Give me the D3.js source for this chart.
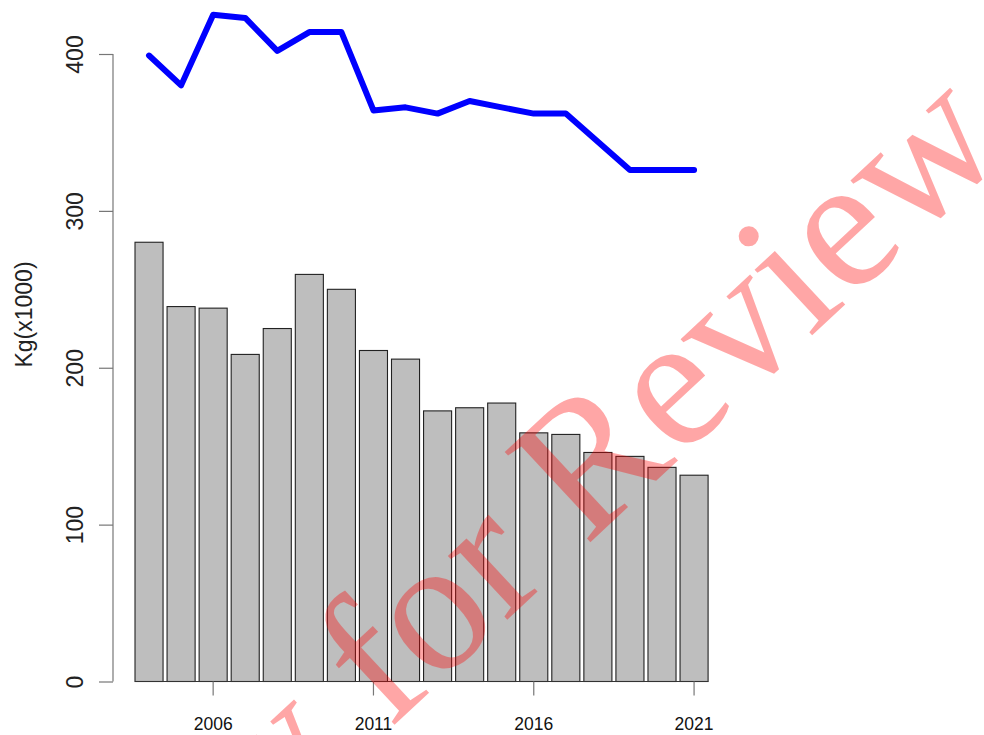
<!DOCTYPE html>
<html>
<head>
<meta charset="utf-8">
<script src="https://cdn.jsdelivr.net/npm/d3@7"></script>
<style>
  html, body { margin: 0; padding: 0; background: #fff; }
  svg { display: block; }
</style>
</head>
<body>
<svg id="chart" width="984" height="735"></svg>
<script>
// ---- data ----
const years = [2004,2005,2006,2007,2008,2009,2010,2011,2012,2013,2014,2015,2016,2017,2018,2019,2020,2021];
const barValues = [280,239,238,208.5,225,259.5,250,211,205.5,172.5,174.5,177.5,158.5,157.5,146,143.5,136.5,131.5];
const lineValues = [399,380,425,423,402,414,414,364,366,362,370,366,362,362,344,326,326,326];
const yTicks = [0,100,200,300,400];
const xTickLabels = [2006,2011,2016,2021];
const yTitle = "Kg(x1000)";
const watermark = "Only for Review";

// ---- layout ----
const svg = d3.select("#chart");
const x = d3.scaleBand().domain(years).range([133, 710.1]).paddingInner(0.125).paddingOuter(0.0625);
const y = d3.scaleLinear().domain([0, 400]).range([681.5, 54]);
const axisCol = "#777";

// bars
svg.append("g").selectAll("rect").data(years).join("rect")
  .attr("x", d => x(d))
  .attr("width", x.bandwidth())
  .attr("y", (d, i) => y(barValues[i]))
  .attr("height", (d, i) => y(0) - y(barValues[i]))
  .attr("fill", "#bebebe")
  .attr("stroke", "#222")
  .attr("stroke-width", 1.1);

// baseline
svg.append("line")
  .attr("x1", x(years[0])).attr("x2", x(years[years.length-1]) + x.bandwidth())
  .attr("y1", y(0)).attr("y2", y(0))
  .attr("stroke", "#333").attr("stroke-width", 1.2);

// line
const line = d3.line()
  .x((d, i) => x(years[i]) + x.bandwidth() / 2)
  .y(d => y(d));
svg.append("path").datum(lineValues)
  .attr("d", line)
  .attr("fill", "none")
  .attr("stroke", "#0000ff")
  .attr("stroke-width", 6)
  .attr("stroke-linejoin", "round")
  .attr("stroke-linecap", "round");

// y axis
const yAxisG = svg.append("g").attr("transform", "translate(113,0)")
  .call(d3.axisLeft(y).tickValues(yTicks).tickSize(14).tickPadding(0).tickFormat(d3.format("d")));
yAxisG.select(".domain").attr("stroke", axisCol).attr("stroke-width", 1.2).attr("d", `M0,${y(0)}V${y(400)}`);
yAxisG.selectAll(".tick line").attr("stroke", axisCol).attr("stroke-width", 1.2);
yAxisG.selectAll(".tick text")
  .attr("x", null).attr("dy", null)
  .attr("transform", "translate(-30,0) rotate(-90)")
  .attr("text-anchor", "middle")
  .attr("font-family", "Liberation Sans, Arial, sans-serif")
  .attr("font-size", 23)
  .attr("fill", "#222");

// x axis
const xAxisG = svg.append("g").attr("transform", `translate(0,${y(0)})`)
  .call(d3.axisBottom(x).tickValues(xTickLabels).tickSize(14).tickPadding(0));
xAxisG.select(".domain").remove();
xAxisG.selectAll(".tick line").attr("stroke", axisCol).attr("stroke-width", 1.2);
xAxisG.selectAll(".tick text")
  .attr("y", 48.5).attr("dy", null)
  .attr("font-family", "Liberation Sans, Arial, sans-serif")
  .attr("font-size", 17.5)
  .attr("fill", "#111");

// y title
svg.append("text")
  .attr("transform", "translate(32,314.5) rotate(-90)")
  .attr("text-anchor", "middle")
  .attr("font-family", "Liberation Sans, Arial, sans-serif")
  .attr("font-size", 23)
  .attr("fill", "#222")
  .text(yTitle);

// watermark
svg.append("text")
  .attr("transform", "translate(1010,151) rotate(-43)")
  .attr("text-anchor", "end")
  .attr("font-family", "Liberation Serif, Times New Roman, serif")
  .attr("font-size", 190)
  .attr("fill", "#ff0000")
  .attr("fill-opacity", 0.35)
  .text(watermark);
</script>
</body>
</html>
